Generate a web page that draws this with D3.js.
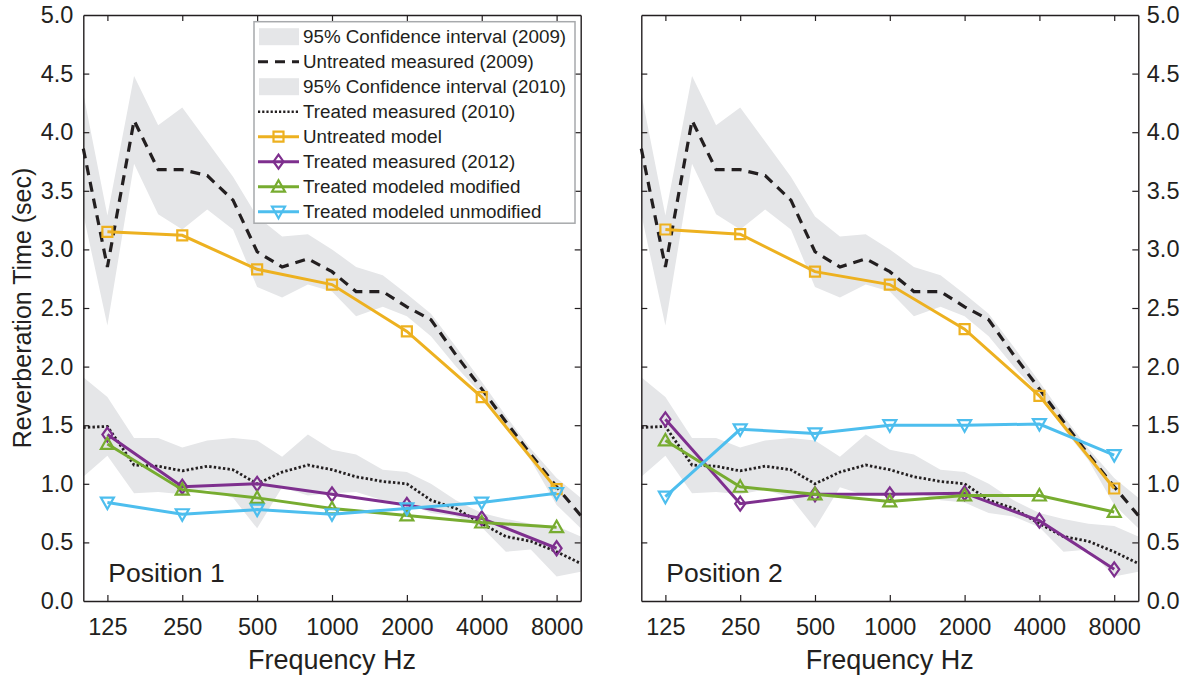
<!DOCTYPE html>
<html>
<head>
<meta charset="utf-8">
<script src="https://cdn.jsdelivr.net/npm/d3@7"></script>
<style>
  body { margin: 0; background: #fff; }
  svg text { font-family: "Liberation Sans", Arial, Helvetica, sans-serif; fill: #231f20; }
</style>
</head>
<body>
<div class="rt-chart"></div>
<script>
// third-octave bands for the measured curves and the confidence bands
var thirdOctave = [100, 125, 160, 200, 250, 315, 400, 500, 630, 800, 1000, 1250, 1600, 2000, 2500, 3150, 4000, 5000, 6300, 8000, 10000];
var untreated2009 = [3.86, 2.85, 4.10, 3.68, 3.68, 3.63, 3.42, 2.98, 2.85, 2.92, 2.81, 2.64, 2.64, 2.51, 2.40, 2.10, 1.81, 1.53, 1.25, 0.975, 0.73];
var ci2009Upper = [4.33, 3.29, 4.48, 4.06, 4.21, 3.92, 3.62, 3.28, 3.11, 3.13, 3.00, 2.85, 2.78, 2.62, 2.45, 2.17, 1.87, 1.58, 1.30, 1.05, 0.88];
var ci2009Lower = [3.30, 2.35, 3.73, 3.30, 3.17, 3.34, 3.17, 2.68, 2.59, 2.70, 2.64, 2.43, 2.51, 2.43, 2.26, 2.00, 1.76, 1.47, 1.20, 0.82, 0.62];
var treated2010 = [1.48, 1.49, 1.16, 1.15, 1.11, 1.15, 1.12, 1.00, 1.10, 1.16, 1.12, 1.06, 1.02, 1.00, 0.86, 0.79, 0.66, 0.55, 0.51, 0.42, 0.32];
var ci2010Upper = [1.91, 1.74, 1.39, 1.39, 1.31, 1.37, 1.39, 1.37, 1.23, 1.42, 1.29, 1.25, 1.12, 1.10, 1.00, 0.86, 0.75, 0.70, 0.66, 0.64, 0.55];
var ci2010Lower = [1.06, 1.24, 0.92, 0.93, 0.91, 0.95, 0.88, 0.62, 0.97, 0.90, 0.92, 0.93, 0.86, 0.84, 0.75, 0.72, 0.63, 0.42, 0.44, 0.21, 0.25];

// octave bands for the modelled / 2012 series
var octave = [125, 250, 500, 1000, 2000, 4000, 8000];
var pos1UntreatedModel = [3.15, 3.12, 2.83, 2.70, 2.30, 1.74, 0.955];
var pos1Treated2012 = [1.42, 0.975, 1.00, 0.91, 0.82, 0.705, 0.45];
var pos1Modified = [1.34, 0.95, 0.88, 0.79, 0.73, 0.67, 0.63];
var pos1Unmodified = [0.84, 0.74, 0.78, 0.74, 0.79, 0.84, 0.92];
var pos2UntreatedModel = [3.17, 3.13, 2.81, 2.70, 2.32, 1.75, 0.96];
var pos2Treated2012 = [1.55, 0.83, 0.91, 0.91, 0.92, 0.685, 0.27];
var pos2Modified = [1.37, 0.975, 0.91, 0.85, 0.90, 0.90, 0.76];
var pos2Unmodified = [0.89, 1.465, 1.43, 1.50, 1.50, 1.51, 1.245];

var yTicks = [0, 0.5, 1, 1.5, 2, 2.5, 3, 3.5, 4, 4.5, 5];
var panelTitles = ["Position 1", "Position 2"];
var legendLabels = ["95% Confidence interval (2009)", "Untreated measured (2009)", "95% Confidence interval (2010)",
    "Treated measured (2010)", "Untreated model", "Treated measured (2012)", "Treated modeled modified", "Treated modeled unmodified"];

var W = 1185, H = 676,
    plotTop = 15, plotBottom = 601,
    panelX = [[83.3, 580.7], [641.3, 1138.3]],
    grey = "#e5e6e8", ink = "#231f20",
    orange = "#edb120", purple = "#7e2f8e", green = "#77ac30", blue = "#4dbeee";

var svg = d3.select(".rt-chart").append("svg")
    .attr("width", W).attr("height", H);

var y = d3.scaleLinear().domain([0, 5]).range([plotBottom, plotTop]);

// marker shapes (hollow)
function marker(g, kind, color, cx, cy) {
    var p;
    if (kind == "square") p = "M-5,-5H5V5H-5Z";
    else if (kind == "diamond") p = "M0,-7L5,0L0,7L-5,0Z";
    else if (kind == "up") p = "M0,-6.5L6.5,5L-6.5,5Z";
    else p = "M0,6.5L6.5,-5L-6.5,-5Z";
    g.append("path").attr("d", p)
        .attr("transform", "translate(" + cx + "," + cy + ")")
        .attr("fill", "none").attr("stroke", color).attr("stroke-width", 2.2);
}

function drawPanel(i, series) {
    var x = d3.scaleLog().domain([100, 10000]).range(panelX[i]);
    var g = svg.append("g");

    var band = function(lo, hi) {
        return d3.area().x(function(d, j) { return x(thirdOctave[j]); })
            .y0(function(d, j) { return y(lo[j]); })
            .y1(function(d, j) { return y(hi[j]); })(thirdOctave);
    };
    g.append("path").attr("d", band(ci2009Lower, ci2009Upper)).attr("fill", grey);
    g.append("path").attr("d", band(ci2010Lower, ci2010Upper)).attr("fill", grey);

    var thirdLine = d3.line().x(function(d, j) { return x(thirdOctave[j]); }).y(function(d) { return y(d); });
    g.append("path").attr("d", thirdLine(untreated2009)).attr("fill", "none")
        .attr("stroke", ink).attr("stroke-width", 3.2).attr("stroke-dasharray", "10,7");
    g.append("path").attr("d", thirdLine(treated2010)).attr("fill", "none")
        .attr("stroke", ink).attr("stroke-width", 2.8).attr("stroke-dasharray", "2.4,2.2");

    var octLine = d3.line().x(function(d, j) { return x(octave[j]); }).y(function(d) { return y(d); });
    series.forEach(function(s) {
        g.append("path").attr("d", octLine(s.values)).attr("fill", "none")
            .attr("stroke", s.color).attr("stroke-width", 3);
        s.values.forEach(function(v, j) { marker(g, s.kind, s.color, x(octave[j]), y(v)); });
    });

    // box with inward ticks
    var ax = svg.append("g").attr("class", "axes");
    var left = panelX[i][0], right = panelX[i][1];
    ax.append("g").attr("transform", "translate(0," + plotBottom + ")")
        .call(d3.axisBottom(x).tickValues(octave).tickFormat(d3.format("d")).tickSize(-6).tickPadding(17).tickSizeOuter(0));
    ax.append("g").attr("transform", "translate(0," + plotTop + ")")
        .call(d3.axisTop(x).tickValues(octave).tickFormat("").tickSize(-6).tickSizeOuter(0));
    ax.append("g").attr("transform", "translate(" + left + ",0)")
        .call(d3.axisLeft(y).tickValues(yTicks).tickFormat(i == 0 ? d3.format(".1f") : "").tickSize(-6).tickPadding(10).tickSizeOuter(0));
    ax.append("g").attr("transform", "translate(" + right + ",0)")
        .call(d3.axisRight(y).tickValues(yTicks).tickFormat(i == 1 ? d3.format(".1f") : "").tickSize(-6).tickPadding(8.5).tickSizeOuter(0));
    ax.selectAll("path.domain").attr("stroke", ink).attr("stroke-width", 1.4);
    ax.selectAll(".tick line").attr("stroke", ink).attr("stroke-width", 1.2);
    ax.selectAll(".tick text").style("font-size", "23.5px").attr("fill", ink);
    // the 0 and 5 ticks sit on the frame
    ax.selectAll(".tick").filter(function(d) { return d === 0 || d === 5; }).select("line").remove();

    svg.append("text")
        .attr("x", (left + right) / 2).attr("y", 669)
        .attr("text-anchor", "middle").style("font-size", "27px")
        .text("Frequency Hz");

    svg.append("text")
        .attr("x", left + 25).attr("y", 582)
        .style("font-size", "26.5px")
        .text(panelTitles[i]);
}

drawPanel(0, [
    {values: pos1UntreatedModel, color: orange, kind: "square"},
    {values: pos1Treated2012, color: purple, kind: "diamond"},
    {values: pos1Modified, color: green, kind: "up"},
    {values: pos1Unmodified, color: blue, kind: "down"}
]);
drawPanel(1, [
    {values: pos2UntreatedModel, color: orange, kind: "square"},
    {values: pos2Treated2012, color: purple, kind: "diamond"},
    {values: pos2Modified, color: green, kind: "up"},
    {values: pos2Unmodified, color: blue, kind: "down"}
]);

svg.append("text")
    .attr("transform", "translate(31," + (plotTop + plotBottom) / 2 + ") rotate(-90)")
    .attr("text-anchor", "middle").style("font-size", "25px")
    .text("Reverberation Time (sec)");

// legend
var legend = svg.append("g").attr("transform", "translate(254,21.7)");
legend.append("rect").attr("width", 321).attr("height", 201.5)
    .attr("fill", "#fff").attr("stroke", "#a7a9ac").attr("stroke-width", 1.5);
var legendStyle = [
    {type: "patch"}, {type: "dash"}, {type: "patch"}, {type: "dot"},
    {type: "line", color: orange, kind: "square"}, {type: "line", color: purple, kind: "diamond"},
    {type: "line", color: green, kind: "up"}, {type: "line", color: blue, kind: "down"}
];
legendLabels.forEach(function(label, k) {
    var cy = 15 + k * 25, st = legendStyle[k];
    var row = legend.append("g");
    if (st.type == "patch") {
        row.append("rect").attr("x", 5).attr("y", cy - 8.5).attr("width", 40).attr("height", 17).attr("fill", grey);
    } else if (st.type == "dash") {
        row.append("line").attr("x1", 4).attr("x2", 45).attr("y1", cy).attr("y2", cy)
            .attr("stroke", ink).attr("stroke-width", 3).attr("stroke-dasharray", "10,7");
    } else if (st.type == "dot") {
        row.append("line").attr("x1", 4).attr("x2", 45).attr("y1", cy).attr("y2", cy)
            .attr("stroke", ink).attr("stroke-width", 2.4).attr("stroke-dasharray", "2.2,2");
    } else {
        row.append("line").attr("x1", 4).attr("x2", 45).attr("y1", cy).attr("y2", cy)
            .attr("stroke", st.color).attr("stroke-width", 3);
        marker(row, st.kind, st.color, 24.5, cy);
    }
    row.append("text").attr("x", 49).attr("y", cy).attr("dy", "0.35em")
        .style("font-size", "18.8px").text(label);
});
</script>
</body>
</html>
